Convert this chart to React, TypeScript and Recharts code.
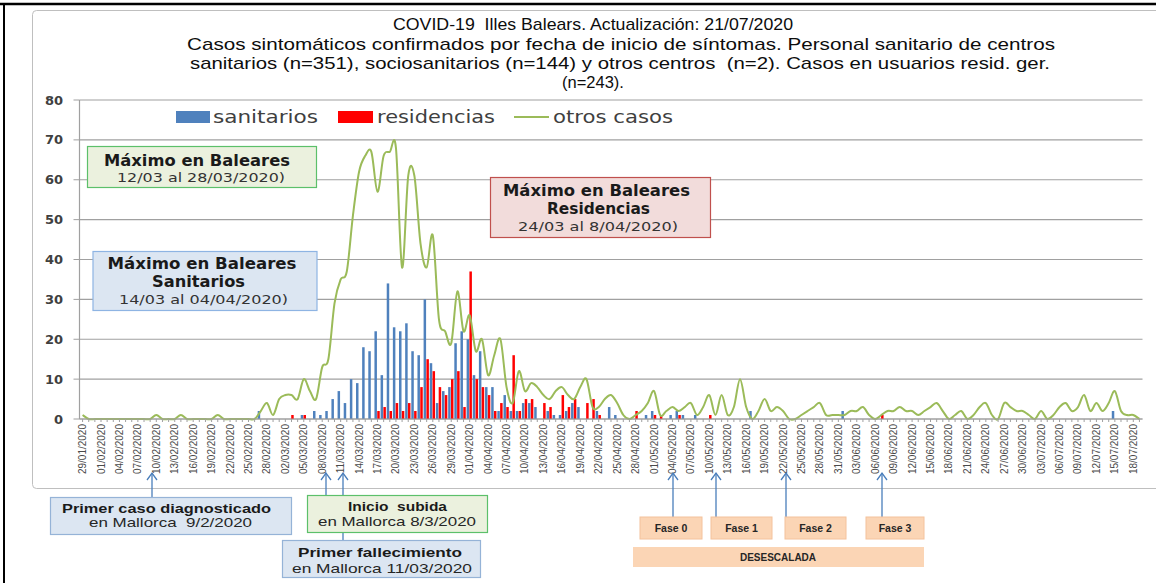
import React from 'react';
import { ComposedChart, Bar, Line, XAxis, YAxis, CartesianGrid } from 'recharts';

// ---------- categories (daily, 29/01/2020 - 19/07/2020) ----------
const enero = ['29/01', '30/01', '31/01'];
const febrero = ['01/02','02/02','03/02','04/02','05/02','06/02','07/02','08/02','09/02','10/02','11/02','12/02','13/02','14/02','15/02','16/02','17/02','18/02','19/02','20/02','21/02','22/02','23/02','24/02','25/02','26/02','27/02','28/02','29/02'];
const marzo = ['01/03','02/03','03/03','04/03','05/03','06/03','07/03','08/03','09/03','10/03','11/03','12/03','13/03','14/03','15/03','16/03','17/03','18/03','19/03','20/03','21/03','22/03','23/03','24/03','25/03','26/03','27/03','28/03','29/03','30/03','31/03'];
const abril = ['01/04','02/04','03/04','04/04','05/04','06/04','07/04','08/04','09/04','10/04','11/04','12/04','13/04','14/04','15/04','16/04','17/04','18/04','19/04','20/04','21/04','22/04','23/04','24/04','25/04','26/04','27/04','28/04','29/04','30/04'];
const mayo = ['01/05','02/05','03/05','04/05','05/05','06/05','07/05','08/05','09/05','10/05','11/05','12/05','13/05','14/05','15/05','16/05','17/05','18/05','19/05','20/05','21/05','22/05','23/05','24/05','25/05','26/05','27/05','28/05','29/05','30/05','31/05'];
const junio = ['01/06','02/06','03/06','04/06','05/06','06/06','07/06','08/06','09/06','10/06','11/06','12/06','13/06','14/06','15/06','16/06','17/06','18/06','19/06','20/06','21/06','22/06','23/06','24/06','25/06','26/06','27/06','28/06','29/06','30/06'];
const julio = ['01/07','02/07','03/07','04/07','05/07','06/07','07/07','08/07','09/07','10/07','11/07','12/07','13/07','14/07','15/07','16/07','17/07','18/07','19/07'];
const dates = [...enero, ...febrero, ...marzo, ...abril, ...mayo, ...junio, ...julio];

// ---------- series ----------
const sanitarios = [
  0,0,0,0,0,0,0,0,0,0,
  0,0,0,0,0,0,0,0,0,0,
  0,0,0,0,0,0,0,0,0,2,
  0,0,0,0,0,0,1,0,2,1,
  2,5,7,4,10,9,18,17,22,11,
  34,23,22,24,17,16,30,14,4,7,
  8,19,22,20,11,17,8,8,2,6,
  2,2,4,4,3,0,2,1,1,2,
  4,3,0,0,2,0,3,1,0,0,
  0,0,1,2,0,0,1,2,1,0,
  1,0,0,0,0,0,0,0,0,2,
  0,0,0,0,0,0,0,0,0,0,
  0,0,0,0,2,0,0,0,0,0,
  0,0,0,0,0,0,0,0,0,0,
  0,0,0,0,0,0,0,0,0,0,
  0,0,0,0,0,0,0,0,0,0,
  0,0,0,0,0,0,0,0,2,0,
  0,0,0,
];
const residencias = [
  0,0,0,0,0,0,0,0,0,0,
  0,0,0,0,0,0,0,0,0,0,
  0,0,0,0,0,0,0,0,0,0,
  0,0,0,0,1,0,1,0,0,0,
  0,0,0,0,0,0,0,0,2,3,
  2,4,2,4,2,8,15,12,8,6,
  10,12,3,37,10,8,6,2,4,3,
  16,2,5,5,0,4,3,0,6,3,
  5,0,4,5,1,0,0,0,0,0,
  2,0,0,1,1,0,0,1,0,0,
  0,0,1,0,0,0,0,0,0,0,
  0,0,0,0,0,0,0,0,0,0,
  0,0,0,0,0,0,0,0,0,0,
  1,0,0,0,0,0,0,0,0,0,
  0,0,0,0,0,0,0,0,0,0,
  0,0,0,0,0,0,0,0,0,0,
  0,0,0,0,0,0,0,0,0,0,
  0,0,0,
];
const otrosCasos = [
  1,0,0,0,0,0,0,0,0,0,
  0,0,1,0,0,0,1,0,0,0,
  0,0,1,0,0,0,0,0,0,2,
  4,1,5,6,6,5,10,7,5,13,
  15,29,35,37,51,62,66,67,57,66,
  67,68,38,61,61,44,38,46,25,22,
  19,32,22,26,17,20,11,16,20,8,
  4,12,7,9,8,6,5,7,8,6,
  5,8,10,3,3,5,6,4,1,0,
  1,2,4,7,1,2,3,2,3,4,
  1,3,6,1,6,1,3,10,3,0,
  2,5,2,3,2,0,0,1,2,3,
  4,1,1,1,1,2,2,3,1,0,
  1,2,2,3,2,2,1,2,3,4,
  2,0,1,2,0,1,3,4,1,0,
  4,3,2,2,1,0,2,0,1,3,
  4,2,3,6,2,4,2,4,7,2,
  1,1,0,
];
const yTicks = [0, 10, 20, 30, 40, 50, 60, 70, 80];

const data = dates.map((d, i) => ({
  fecha: d + '/2020',
  sanitarios: sanitarios[i],
  residencias: residencias[i],
  otros: otrosCasos[i],
}));

// Excel-like smoothed line (Catmull-Rom through the points)
function excelSmooth(context: any) {
  let pts: number[][] = [];
  return {
    areaStart() {},
    areaEnd() {},
    lineStart() { pts = []; },
    point(x: number, y: number) { pts.push([+x, +y]); },
    lineEnd() {
      const n = pts.length;
      if (!n) return;
      context.moveTo(pts[0][0], pts[0][1]);
      for (let i = 0; i < n - 1; i++) {
        const p0 = pts[Math.max(0, i - 1)];
        const p1 = pts[i];
        const p2 = pts[i + 1];
        const p3 = pts[Math.min(n - 1, i + 2)];
        context.bezierCurveTo(
          p1[0] + (p2[0] - p0[0]) / 6, p1[1] + (p2[1] - p0[1]) / 6,
          p2[0] - (p3[0] - p1[0]) / 6, p2[1] - (p3[1] - p1[1]) / 6,
          p2[0], p2[1]
        );
      }
    },
  };
}

const GRID = '#a0a0a0';

const XTick = (props: any) => {
  const { x, y, payload, index } = props;
  if (index % 3 !== 0) return <g />;
  return (
    <text
      transform={`rotate(-90 ${x} ${y})`}
      x={x}
      y={y}
      dy={3.5}
      textAnchor="end"
      fontFamily="Liberation Sans, Arial, sans-serif"
      fontSize={10}
      fill="#4a4a4a"
    >
      {payload.value}
    </text>
  );
};

const YTick = (props: any) => {
  const { y, payload } = props;
  return (
    <text x={63} y={y} dy={4.5} textAnchor="end" fontFamily="DejaVu Sans, sans-serif" fontWeight="bold" fontSize={13} fill="#404040">
      {payload.value}
    </text>
  );
};

const T = ({ x, y, w, s, b, f, c = '#262626', children }: any) => (
  <text
    x={x}
    y={y}
    textLength={w}
    lengthAdjust="spacingAndGlyphs"
    fontSize={s}
    fontWeight={b ? 'bold' : 'normal'}
    fontFamily={f}
    fill={c}
    style={{ whiteSpace: 'pre' }}
  >
    {children}
  </text>
);

const CAL = 'Liberation Sans, Arial, sans-serif';
const VER = 'DejaVu Sans, Verdana, sans-serif';
const ARROW = '#4a7ebb';

const Arrow = ({ x, y1, y2 }: any) => (
  <g stroke={ARROW} strokeWidth={1.3} fill="none">
    <line x1={x} y1={y1} x2={x} y2={y2} />
    <polyline points={`${x - 5},${y2 + 7} ${x},${y2} ${x + 5},${y2 + 7}`} />
  </g>
);

const FaseBox = ({ x, w, label }: any) => (
  <g>
    <rect x={x} y={517} width={w} height={22} fill="#fbd5b5" stroke="#f4c29c" strokeWidth={1} />
    <text x={x + w / 2} y={532} textAnchor="middle" fontFamily={CAL} fontWeight="bold" fontSize={10.5} fill="#262626">{label}</text>
  </g>
);

export default function App() {
  return (
    <div style={{ position: 'absolute', left: 0, top: 0, width: 1156, height: 583, background: '#ffffff', overflow: 'hidden' }}>
      <svg width={1156} height={583} style={{ position: 'absolute', left: 0, top: 0 }}>
        <rect x={32.5} y={10.5} width={1140} height={478} rx={4} fill="#ffffff" stroke="#bfbfbf" strokeWidth={1} />
      </svg>
      <div style={{ position: 'absolute', left: 0, top: 0 }}>
        <ComposedChart
          width={1156}
          height={583}
          data={data}
          margin={{ top: 100, right: 13.5, bottom: 93, left: 0 }}
          barGap={0.3}
        >
          <CartesianGrid vertical={false} stroke={GRID} strokeWidth={1.2} />
          <XAxis
            dataKey="fecha"
            interval={0}
            tick={(p: any) => <XTick {...p} />}
            tickSize={3}
            tickLine={{ stroke: GRID }}
            axisLine={{ stroke: GRID, strokeWidth: 1.2 }}
            height={71}
          />
          <YAxis
            domain={[0, 80]}
            ticks={yTicks}
            interval={0}
            width={79.5}
            tick={(p: any) => <YTick {...p} />}
            tickSize={6}
            tickLine={{ stroke: GRID }}
            axisLine={{ stroke: GRID, strokeWidth: 1.2 }}
          />
          <Bar dataKey="sanitarios" fill="#4f81bd" barSize={2.5} isAnimationActive={false} />
          <Bar dataKey="residencias" fill="#ff0000" barSize={2.5} isAnimationActive={false} />
          <Line
            dataKey="otros"
            stroke="#9bbb59"
            strokeWidth={2}
            dot={false}
            activeDot={false}
            type={excelSmooth as any}
            isAnimationActive={false}
          />
        </ComposedChart>
      </div>
      <svg width={1156} height={583} style={{ position: 'absolute', left: 0, top: 0, pointerEvents: 'none' }}>
        {/* page frame */}
        <line x1={0} y1={4} x2={1156} y2={4} stroke="#000" strokeWidth={2.5} />
        <line x1={4} y1={4} x2={4} y2={583} stroke="#000" strokeWidth={2} />

        {/* title */}
        <T x={393} y={30} w={400} s={17} f={CAL} c="#0d0d0d">COVID-19  Illes Balears. Actualización: 21/07/2020</T>
        <T x={187} y={50} w={868} s={17} f={CAL} c="#0d0d0d">Casos sintomáticos confirmados por fecha de inicio de síntomas. Personal sanitario de centros</T>
        <T x={190} y={69} w={860} s={17} f={CAL} c="#0d0d0d">sanitarios (n=351), sociosanitarios (n=144) y otros centros  (n=2). Casos en usuarios resid. ger.</T>
        <text x={593} y={88} textAnchor="middle" fontSize={16.5} fontFamily={CAL} fill="#0d0d0d">(n=243).</text>

        {/* legend */}
        <rect x={176} y={111} width={34} height={12} fill="#4f81bd" />
        <T x={213} y={123} w={105} s={18} f={VER} c="#404040">sanitarios</T>
        <rect x={338} y={111} width={35} height={12} fill="#ff0000" />
        <T x={377} y={123} w={118} s={18} f={VER} c="#404040">residencias</T>
        <line x1={514} y1={117} x2={549} y2={117} stroke="#9bbb59" strokeWidth={2} />
        <T x={553} y={123} w={120} s={18} f={VER} c="#404040">otros casos</T>

        {/* Máximo en Baleares */}
        <rect x={87.5} y={146.5} width={229} height={41} fill="#ebf1de" stroke="#5cc06a" strokeWidth={1.2} />
        <T x={104} y={166} w={186} s={15} b f={VER} c="#1a1a1a">Máximo en Baleares</T>
        <T x={117} y={182} w={168} s={12.5} f={VER} c="#333333">12/03 al 28/03/2020)</T>

        {/* Máximo Sanitarios */}
        <rect x={93} y={251.5} width={224} height={59} fill="#dce6f2" stroke="#8eb4e3" strokeWidth={1.2} />
        <T x={107.5} y={269} w={189} s={15} b f={VER} c="#1a1a1a">Máximo en Baleares</T>
        <T x={152} y={287} w={93} s={15} b f={VER} c="#1a1a1a">Sanitarios</T>
        <T x={119} y={304} w={169} s={12.5} f={VER} c="#333333">14/03 al 04/04/2020)</T>

        {/* Máximo Residencias */}
        <rect x={490.5} y={177.5} width={220} height={60} fill="#f2dcdb" stroke="#c0504d" strokeWidth={1.2} />
        <T x={503} y={196} w={187} s={15} b f={VER} c="#1a1a1a">Máximo en Baleares</T>
        <T x={547} y={214} w={103} s={15} b f={VER} c="#1a1a1a">Residencias</T>
        <T x={518} y={231} w={160} s={12.5} f={VER} c="#333333">24/03 al 8/04/2020)</T>

        {/* arrows */}
        <Arrow x={152} y1={497} y2={473} />
        <Arrow x={326} y1={495} y2={473} />
        <Arrow x={343} y1={495} y2={473} />
        <line x1={343} y1={533} x2={343} y2={540} stroke={ARROW} strokeWidth={1.3} />
        <Arrow x={673} y1={517} y2={473} />
        <Arrow x={716} y1={517} y2={473} />
        <Arrow x={786} y1={517} y2={473} />
        <Arrow x={882} y1={517} y2={473} />

        {/* bottom boxes */}
        <rect x={50.5} y={497.5} width={241} height={37} fill="#dce6f2" stroke="#95b3d7" strokeWidth={1.2} />
        <T x={62} y={513} w={209} s={13} b f={CAL} c="#1a1a1a">Primer caso diagnosticado</T>
        <T x={89} y={527} w={163} s={13} f={CAL} c="#262626">en Mallorca  9/2/2020</T>

        <rect x={307.5} y={495.5} width={180} height={37} fill="#ebf1de" stroke="#5cc06a" strokeWidth={1.2} />
        <T x={348} y={511} w={99} s={13} b f={CAL} c="#1a1a1a">Inicio  subida</T>
        <T x={318} y={526} w={158} s={13} f={CAL} c="#262626">en Mallorca 8/3/2020</T>

        <rect x={282.5} y={540.5} width={198} height={37} fill="#dce6f2" stroke="#95b3d7" strokeWidth={1.2} />
        <T x={298} y={557} w={164} s={13} b f={CAL} c="#1a1a1a">Primer fallecimiento</T>
        <T x={292} y={573} w={180} s={13} f={CAL} c="#262626">en Mallorca 11/03/2020</T>

        <FaseBox x={640} w={62} label="Fase 0" />
        <FaseBox x={711} w={61} label="Fase 1" />
        <FaseBox x={785} w={61} label="Fase 2" />
        <FaseBox x={866} w={58} label="Fase 3" />
        <rect x={633} y={547} width={291} height={20} fill="#fbd5b5" />
        <text x={778} y={561} textAnchor="middle" fontFamily={CAL} fontWeight="bold" fontSize={10} fill="#262626">DESESCALADA</text>
      </svg>
    </div>
  );
}
